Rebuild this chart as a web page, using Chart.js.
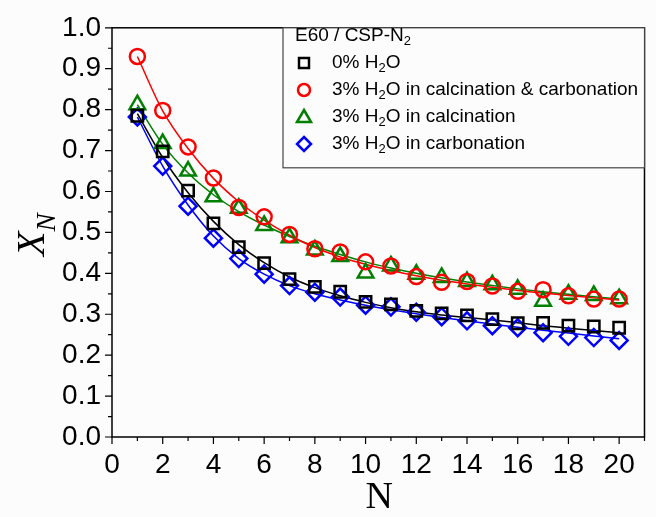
<!DOCTYPE html>
<html>
<head>
<meta charset="utf-8">
<script src="https://cdn.jsdelivr.net/npm/chart.js@4.4.0/dist/chart.umd.min.js"></script>
<style>
    body { margin: 0; background: #fcfcfc; }
    #wrap { width: 656px; height: 517px; }
</style>
</head>
<body>
<div id="wrap"><canvas id="chart" width="656" height="517"></canvas></div>
<script>
// Cycle number
const cycles = [1, 2, 3, 4, 5, 6, 7, 8, 9, 10, 11, 12, 13, 14, 15, 16, 17, 18, 19, 20];

// Measured conversion X_N
const dry = [0.785, 0.698, 0.602, 0.522, 0.464, 0.425, 0.386, 0.367, 0.355, 0.330, 0.324, 0.308, 0.302, 0.297, 0.288, 0.278, 0.279, 0.272, 0.270, 0.267];
const steamBoth = [0.930, 0.798, 0.709, 0.633, 0.561, 0.538, 0.495, 0.460, 0.452, 0.428, 0.418, 0.392, 0.378, 0.380, 0.369, 0.356, 0.360, 0.345, 0.337, 0.337];
const steamCalc = [0.812, 0.717, 0.650, 0.587, 0.559, 0.517, 0.487, 0.457, 0.441, 0.401, 0.418, 0.398, 0.390, 0.380, 0.372, 0.361, 0.332, 0.349, 0.346, 0.338];
const steamCarb = [0.782, 0.662, 0.564, 0.486, 0.436, 0.398, 0.370, 0.354, 0.342, 0.322, 0.318, 0.305, 0.294, 0.284, 0.272, 0.267, 0.255, 0.246, 0.243, 0.236];

// Fitted curves at each cycle
const dryFit = [0.790, 0.683, 0.597, 0.527, 0.470, 0.426, 0.391, 0.365, 0.345, 0.329, 0.316, 0.306, 0.298, 0.292, 0.286, 0.279, 0.272, 0.266, 0.260, 0.255];
const steamBothFit = [0.930, 0.797, 0.705, 0.632, 0.575, 0.530, 0.493, 0.463, 0.440, 0.422, 0.407, 0.394, 0.383, 0.374, 0.366, 0.358, 0.352, 0.346, 0.340, 0.335];
const steamCalcFit = [0.812, 0.715, 0.645, 0.592, 0.551, 0.518, 0.490, 0.466, 0.446, 0.428, 0.413, 0.400, 0.389, 0.379, 0.370, 0.362, 0.355, 0.349, 0.343, 0.337];
const steamCarbFit = [0.782, 0.662, 0.567, 0.491, 0.436, 0.398, 0.370, 0.350, 0.335, 0.322, 0.311, 0.301, 0.292, 0.284, 0.276, 0.268, 0.261, 0.254, 0.247, 0.240];

const xTicks = [0, 2, 4, 6, 8, 10, 12, 14, 16, 18, 20];
const yTicks = [0.0, 0.1, 0.2, 0.3, 0.4, 0.5, 0.6, 0.7, 0.8, 0.9, 1.0];

const SANS = '"Liberation Sans", Arial, sans-serif';
const SERIF = '"Liberation Serif", "Times New Roman", serif';

function toPoints(ys) {
    return cycles.map((n, i) => ({ x: n, y: ys[i] }));
}

function fitSet(ys, color) {
    return {
        data: toPoints(ys),
        showLine: true,
        borderColor: color,
        borderWidth: 1.5,
        pointRadius: 0,
        cubicInterpolationMode: 'monotone',
        order: 2
    };
}

function markSet(ys, s) {
    return {
        data: toPoints(ys),
        showLine: false,
        pointStyle: s.style,
        pointRadius: s.radius,
        pointBorderWidth: 2.5,
        borderColor: s.color,
        backgroundColor: 'rgba(255,255,255,0)',
        order: 1
    };
}

const series = [
    { label: ['0% H', '2', 'O'], color: '#000000', style: 'rect', radius: 8 },
    { label: ['3% H', '2', 'O in calcination & carbonation'], color: '#ff0000', style: 'circle', radius: 7.5 },
    { label: ['3% H', '2', 'O in calcination'], color: '#008000', style: 'triangle', radius: 9 },
    { label: ['3% H', '2', 'O in carbonation'], color: '#0000ff', style: 'rectRot', radius: 8.5 }
];

// Draw text with alternating normal / subscript parts
function drawSub(ctx, parts, x, y, size, family, style) {
    let cx = x;
    parts.forEach((p, i) => {
        const sub = i % 2 === 1;
        const fs = sub ? size * 0.68 : size;
        ctx.font = `${style || ''} ${fs}px ${family}`;
        ctx.fillText(p, cx, sub ? y + size * 0.28 : y);
        cx += ctx.measureText(p).width;
    });
    return cx;
}

// Legend marker shapes
function drawMarker(ctx, style, x, y) {
    if (style === 'rect') {
        ctx.rect(x - 5, y - 5, 10, 10);
    } else if (style === 'circle') {
        ctx.arc(x, y, 6, 0, Math.PI * 2);
    } else if (style === 'triangle') {
        ctx.moveTo(x, y - 7);
        ctx.lineTo(x + 7, y + 5);
        ctx.lineTo(x - 7, y + 5);
        ctx.closePath();
    } else {
        ctx.moveTo(x, y - 7);
        ctx.lineTo(x + 7, y);
        ctx.lineTo(x, y + 7);
        ctx.lineTo(x - 7, y);
        ctx.closePath();
    }
}

const framePlugin = {
    id: 'frame',
    afterDraw(chart) {
        const ctx = chart.ctx;
        const a = chart.chartArea;
        const xs = chart.scales.x;
        const ys = chart.scales.y;
        ctx.save();
        ctx.strokeStyle = '#000';
        ctx.lineWidth = 1.5;
        ctx.strokeRect(a.left, a.top, a.right - a.left, a.bottom - a.top);

        // outward ticks, major and minor
        ctx.lineWidth = 1.2;
        ctx.beginPath();
        for (let v = 0; v <= 21; v++) {
            const px = xs.getPixelForValue(v);
            const len = v % 2 === 0 ? 7 : 4;
            ctx.moveTo(px, a.bottom);
            ctx.lineTo(px, a.bottom + len);
        }
        for (let k = 0; k <= 20; k++) {
            const py = ys.getPixelForValue(k * 0.05);
            const len = k % 2 === 0 ? 7 : 4;
            ctx.moveTo(a.left, py);
            ctx.lineTo(a.left - len, py);
        }
        ctx.stroke();

        // legend box
        const lx = 283, ly = a.top, lw = a.right - 283, lh = 140;
        ctx.fillStyle = '#fcfcfc';
        ctx.fillRect(lx, ly, lw, lh);
        ctx.lineWidth = 1.2;
        ctx.strokeStyle = '#444';
        ctx.strokeRect(lx, ly, lw, lh);
        ctx.fillStyle = '#000';
        ctx.textBaseline = 'middle';
        ctx.textAlign = 'left';
        drawSub(ctx, ['E60 / CSP-N', '2'], 295, 36, 19, SANS);
        series.forEach((s, i) => {
            const ry = 63 + i * 27;
            ctx.strokeStyle = s.color;
            ctx.lineWidth = 2.5;
            ctx.beginPath();
            drawMarker(ctx, s.style, 304, ry);
            ctx.stroke();
            ctx.fillStyle = '#000';
            drawSub(ctx, s.label, 332, ry, 19, SANS);
        });

        // axis titles
        ctx.fillStyle = '#000';
        ctx.textAlign = 'center';
        ctx.textBaseline = 'alphabetic';
        ctx.font = `38px ${SERIF}`;
        ctx.fillText('N', (a.left + a.right) / 2 + 1, 508);

        ctx.translate(44, 236);
        ctx.rotate(-Math.PI / 2);
        ctx.textAlign = 'left';
        drawSub(ctx, ['X', 'N'], -20, 0, 40, SERIF, 'italic');
        ctx.restore();
    }
};

const datasets = [
    fitSet(dryFit, '#000000'),
    fitSet(steamBothFit, '#ff0000'),
    fitSet(steamCalcFit, '#008000'),
    fitSet(steamCarbFit, '#0000ff'),
    markSet(dry, series[0]),
    markSet(steamBoth, series[1]),
    markSet(steamCalc, series[2]),
    markSet(steamCarb, series[3])
];

new Chart(document.getElementById('chart'), {
    type: 'scatter',
    data: { datasets: datasets },
    options: {
        responsive: false,
        animation: false,
        layout: { padding: { left: 0, top: 22, right: 9, bottom: 0 } },
        plugins: {
            legend: { display: false },
            tooltip: { enabled: false }
        },
        scales: {
            x: {
                type: 'linear',
                min: 0,
                max: 21,
                afterBuildTicks: s => { s.ticks = xTicks.map(v => ({ value: v })); },
                afterFit: s => { s.height = 80; },
                grid: { display: false, drawTicks: false },
                border: { display: false },
                ticks: {
                    color: '#000',
                    padding: 11,
                    font: { family: SANS, size: 28 },
                    callback: v => String(v)
                }
            },
            y: {
                min: 0,
                max: 1,
                afterBuildTicks: s => { s.ticks = yTicks.map(v => ({ value: v })); },
                afterFit: s => { s.width = 112; },
                grid: { display: false, drawTicks: false },
                border: { display: false },
                ticks: {
                    color: '#000',
                    padding: 11,
                    font: { family: SANS, size: 28 },
                    callback: v => v.toFixed(1)
                }
            }
        }
    },
    plugins: [framePlugin]
});
</script>
</body>
</html>
